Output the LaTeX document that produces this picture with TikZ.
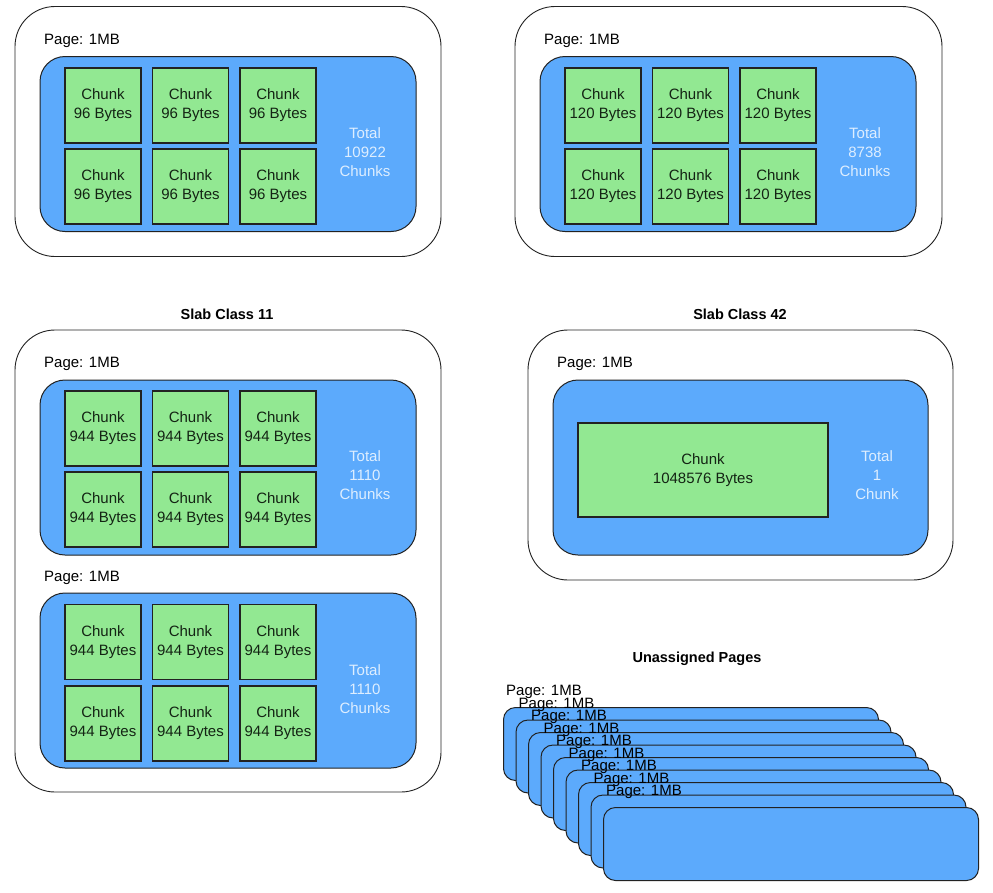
\documentclass[tikz,border=0pt]{standalone}
\usepackage{fontspec}
\setmainfont{Liberation Sans}
\definecolor{pageblue}{RGB}{92,170,252}
\definecolor{chunkgreen}{RGB}{146,232,146}
\definecolor{linegray}{RGB}{34,34,34}
\definecolor{totalcol}{RGB}{222,238,255}
\definecolor{chunktext}{RGB}{20,36,20}
\tikzset{
  outerbox/.style={draw=linegray, line width=0.9pt, fill=white, rounded corners=40pt, inner sep=0pt},
  pagebox/.style={draw=linegray, line width=1pt, fill=pageblue, rounded corners=25pt, inner sep=0pt},
  chunkbox/.style={draw=linegray, line width=1.1pt, fill=chunkgreen, inner sep=0pt, minimum width=76pt, minimum height=75pt, align=center, text=chunktext, font=\fontsize{15pt}{19pt}\selectfont},
  totaltext/.style={align=center, text=totalcol, font=\fontsize{15pt}{19pt}\selectfont},
  pagelabel/.style={anchor=west, inner sep=0pt, font=\fontsize{15pt}{19pt}\selectfont},
  titletext/.style={font=\fontsize{14.5pt}{18pt}\selectfont\bfseries},
  stackbox/.style={draw=linegray, line width=1pt, fill=pageblue, rounded corners=12pt, inner sep=0pt, minimum width=375pt, minimum height=73pt, anchor=north west}
}
\begin{document}
\begin{tikzpicture}[x=1pt,y=-1pt]
\useasboundingbox[fill=white] (0,0) rectangle (993,892);

% ---------- top left ----------
\node[outerbox, minimum width=426pt, minimum height=250pt] (tlo) at (228,131.5) {};
\node[pagelabel] (tlp) at (44,41) {Page: 1MB};
\node[pagebox, minimum width=376pt, minimum height=175pt] (tlb) at (228,144) {};
\foreach \cx/\cn in {103/a,190.5/b,278/c}{
  \node[chunkbox] (tl1\cn) at (\cx,105.5) {Chunk\\96 Bytes};
  \node[chunkbox] (tl2\cn) at (\cx,186.5) {Chunk\\96 Bytes};
}
\node[totaltext] (tlt) at (365,152) {Total\\10922\\Chunks};

% ---------- top right ----------
\node[outerbox, minimum width=427pt, minimum height=250pt] (tro) at (728.5,131.5) {};
\node[pagelabel] (trp) at (544,41) {Page: 1MB};
\node[pagebox, minimum width=376pt, minimum height=175pt] (trb) at (728,144) {};
\foreach \cx/\cn in {603/a,690.5/b,778/c}{
  \node[chunkbox] (tr1\cn) at (\cx,105.5) {Chunk\\120 Bytes};
  \node[chunkbox] (tr2\cn) at (\cx,186.5) {Chunk\\120 Bytes};
}
\node[totaltext] (trt) at (865,152) {Total\\8738\\Chunks};

% ---------- slab class 11 ----------
\node[titletext] (s11title) at (227,314) {Slab Class 11};
\node[outerbox, minimum width=426pt, minimum height=462pt] (s11o) at (228,561) {};
\node[pagelabel] (s11p1) at (44,364) {Page: 1MB};
\node[pagebox, minimum width=376pt, minimum height=175pt] (s11b1) at (228,467.5) {};
\foreach \cx/\cn in {103/a,190.5/b,278/c}{
  \node[chunkbox] (sa1\cn) at (\cx,428.5) {Chunk\\944 Bytes};
  \node[chunkbox] (sa2\cn) at (\cx,509.5) {Chunk\\944 Bytes};
}
\node[totaltext] (s11t1) at (365,475) {Total\\1110\\Chunks};
\node[pagelabel] (s11p2) at (44,578) {Page: 1MB};
\node[pagebox, minimum width=376pt, minimum height=175pt] (s11b2) at (228,680.5) {};
\foreach \cx/\cn in {103/a,190.5/b,278/c}{
  \node[chunkbox] (sb1\cn) at (\cx,642) {Chunk\\944 Bytes};
  \node[chunkbox] (sb2\cn) at (\cx,723.5) {Chunk\\944 Bytes};
}
\node[totaltext] (s11t2) at (365,689) {Total\\1110\\Chunks};

% ---------- slab class 42 ----------
\node[titletext] (s42title) at (740,314) {Slab Class 42};
\node[outerbox, minimum width=425pt, minimum height=250pt] (s42o) at (740.5,455) {};
\node[pagelabel] (s42p) at (557,364) {Page: 1MB};
\node[pagebox, minimum width=375pt, minimum height=175pt] (s42b) at (740.5,467.5) {};
\node[chunkbox, minimum width=250pt, minimum height=94pt] (s42c) at (703,470) {Chunk\\1048576 Bytes};
\node[totaltext] (s42t) at (877,475) {Total\\1\\Chunk};

% ---------- unassigned pages ----------
\node[titletext] (utitle) at (697,659) {Unassigned Pages};
\foreach \k in {0,...,8}{
  \node[stackbox] (ub\k) at ({503+12.5*\k},{707+12.5*\k}) {};
}
\foreach \k in {0,...,8}{
  \node[pagelabel] (ul\k) at ({506+12.5*\k},{692+12.5*\k}) {Page: 1MB};
}
\end{tikzpicture}
\end{document}
